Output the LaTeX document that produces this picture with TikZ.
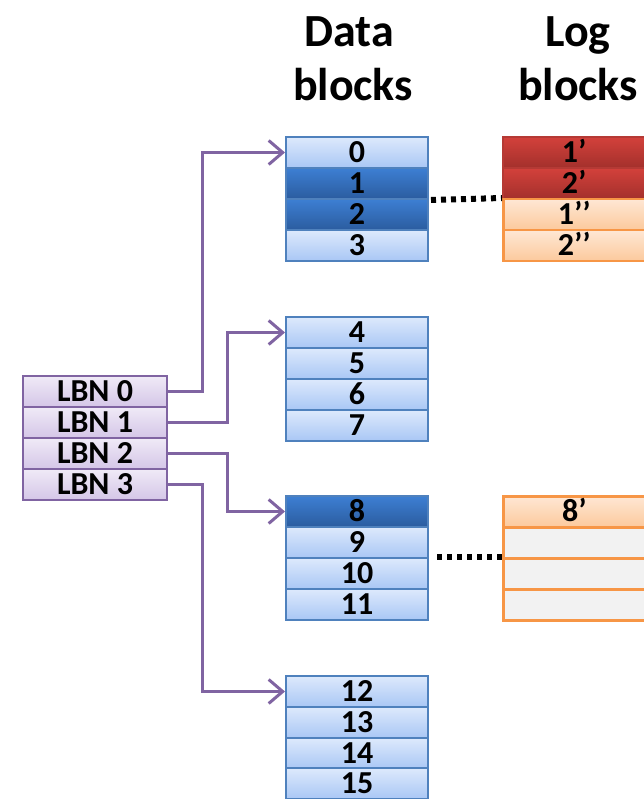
\documentclass[tikz,border=0pt]{standalone}
\usepackage{fontspec}
\setmainfont{Carlito}
\usetikzlibrary{arrows.meta}
\definecolor{dataedge}{HTML}{4F81BD}
\definecolor{lighttop}{HTML}{DDE9FC}
\definecolor{lightbot}{HTML}{A9C7F5}
\definecolor{darktop}{HTML}{3D7FD3}
\definecolor{darkbot}{HTML}{2B5C9F}
\definecolor{redtop}{HTML}{D3413B}
\definecolor{redbot}{HTML}{A3302C}
\definecolor{rededge}{HTML}{B53A35}
\definecolor{orangetop}{HTML}{FEE7D4}
\definecolor{orangebot}{HTML}{FCC99C}
\definecolor{orangeedge}{HTML}{F79646}
\definecolor{emptyfill}{HTML}{F2F2F2}
\definecolor{lbntop}{HTML}{F0EAF7}
\definecolor{lbnbot}{HTML}{D4C6E7}
\definecolor{lbnedge}{HTML}{8064A2}
\tikzset{
  cell/.style={rectangle, anchor=north west, inner sep=0pt, line width=2pt,
    minimum width=142pt, minimum height=31pt, text height=20pt, text depth=0pt,
    font=\fontsize{32}{32}\selectfont\bfseries},
  datacell/.style={cell, draw=dataedge, top color=lighttop, bottom color=lightbot},
  hotcell/.style={cell, draw=dataedge, top color=darktop, bottom color=darkbot},
  oldlog/.style={cell, draw=rededge, top color=redtop, bottom color=redbot},
  newlog/.style={cell, draw=orangeedge, line width=2.5pt, top color=orangetop, bottom color=orangebot},
  freelog/.style={cell, draw=orangeedge, line width=2.5pt, fill=emptyfill},
  lbncell/.style={cell, minimum width=144pt, draw=lbnedge, top color=lbntop, bottom color=lbnbot},
  head/.style={anchor=base, inner sep=0pt, font=\fontsize{46}{54}\selectfont\bfseries},
  barb/.tip={Straight Barb[length=14pt, width=24pt, line width=3pt]},
  map/.style={draw=lbnedge, line width=3pt, -barb},
  link/.style={line width=6pt, dash pattern=on 5pt off 5pt}
}
\begin{document}
\begin{tikzpicture}[x=1pt,y=-1pt]
\clip (0,0) rectangle (644,799);
\useasboundingbox (0,0) rectangle (644,799);

% column headings
\node[head] (hdata1) at (349,47) {Data};
\node[head] (hdata2) at (353,101) {blocks};
\node[head] (hlog1) at (578,47) {Log};
\node[head] (hlog2) at (578,101) {blocks};

% data blocks, four groups of four pages
\node[datacell] (d0) at (285,136) {0};
\node[hotcell]  (d1) at (285,167) {1};
\node[hotcell]  (d2) at (285,198) {2};
\node[datacell] (d3) at (285,229) {3};

\node[datacell] (d4) at (285,316) {4};
\node[datacell] (d5) at (285,347) {5};
\node[datacell] (d6) at (285,378) {6};
\node[datacell] (d7) at (285,409) {7};

\node[hotcell]  (d8)  at (285,495) {8};
\node[datacell] (d9)  at (285,526) {9};
\node[datacell] (d10) at (285,557) {10};
\node[datacell] (d11) at (285,588) {11};

\node[datacell] (d12) at (285,675) {12};
\node[datacell] (d13) at (285,706) {13};
\node[datacell] (d14) at (285,737) {14};
\node[datacell] (d15) at (285,767) {15};

% log blocks
\node[oldlog]  (la0) at (502,136) {1’};
\node[oldlog]  (la1) at (502,167) {2’};
\node[newlog]  (la2) at (502,198) {1’’};
\node[newlog]  (la3) at (502,229) {2’’};

\node[newlog]  (lb0) at (502,495) {8’};
\node[freelog] (lb1) at (502,526) {};
\node[freelog] (lb2) at (502,557) {};
\node[freelog] (lb3) at (502,588) {};

% logical block numbers
\node[lbncell] (n0) at (22,375) {LBN 0};
\node[lbncell] (n1) at (22,406) {LBN 1};
\node[lbncell] (n2) at (22,437) {LBN 2};
\node[lbncell] (n3) at (22,468) {LBN 3};

% mapping from logical to data blocks
\draw[map] (n0.east) -- ++(34,0) |- (d0.west);
\draw[map] (n1.east) -- ++(59,0) |- (d4.west);
\draw[map] (n2.east) -- ++(59,0) |- (d8.west);
\draw[map] (n3.east) -- ++(34,0) |- (d12.west);

% data block to log block association
\draw[link] (d1.south east) ++(2,0) coordinate (s1) -- (la2.north west);
\draw[link] (d10.north east) ++(8,0) coordinate (s2) -- (lb2.north west);
\end{tikzpicture}
\end{document}
